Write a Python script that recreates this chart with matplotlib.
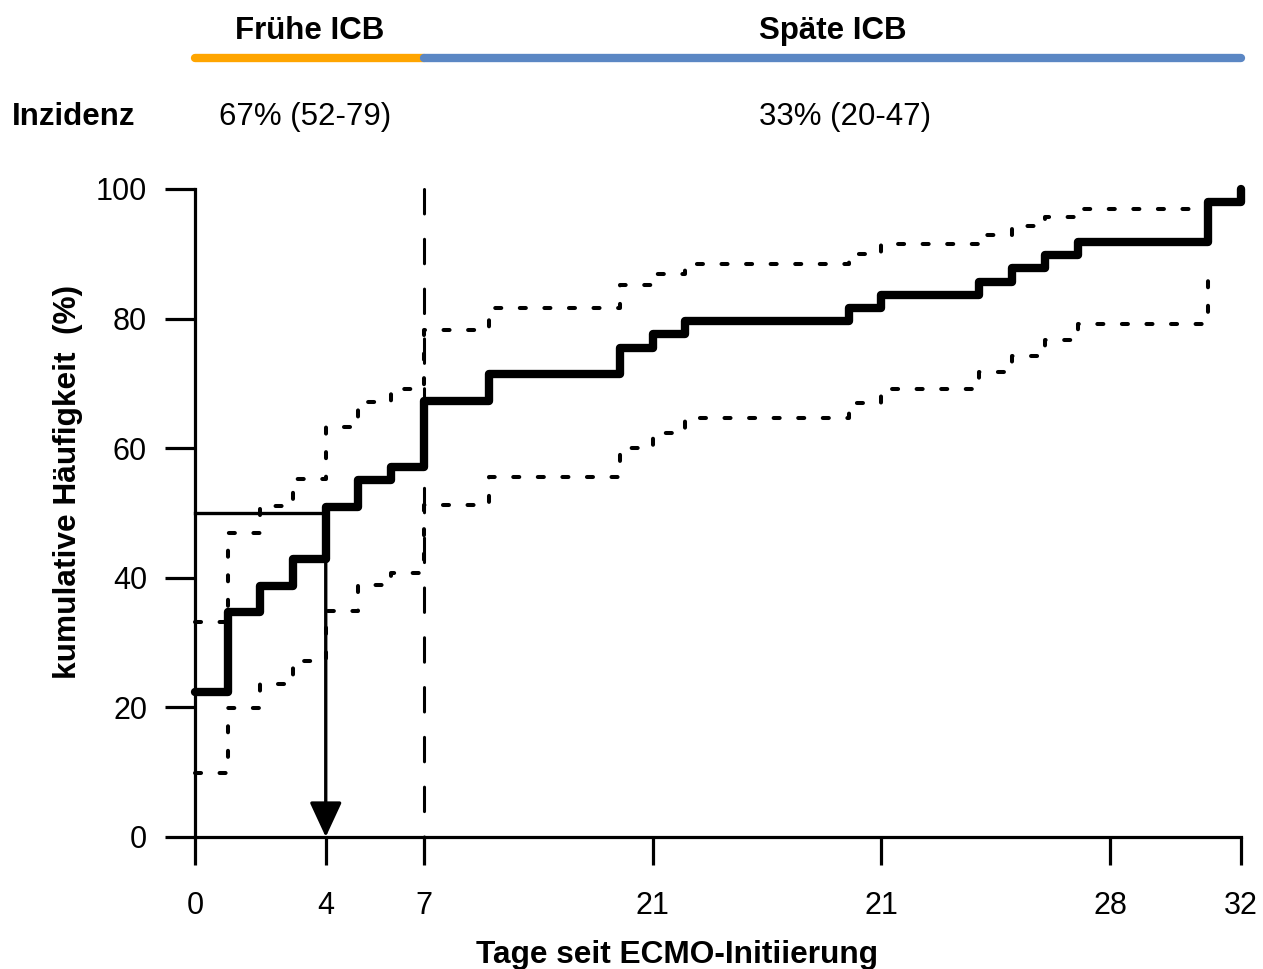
import matplotlib
matplotlib.use("Agg")
import matplotlib.pyplot as plt
import matplotlib.transforms as mtransforms

plt.rcParams['font.family'] = ['Liberation Sans', 'DejaVu Sans']

# Cumulative incidence (%) of ICB over days since ECMO initiation
days = [0, 1, 2, 3, 4, 5, 6, 7, 9, 13, 14, 15, 20, 21, 24, 25, 26, 27, 31, 32]
incidence = [22.4, 34.7, 38.8, 42.9, 51.0, 55.1, 57.1, 67.3, 71.4, 75.5, 77.6,
             79.6, 81.6, 83.7, 85.7, 87.8, 89.8, 91.8, 98.0, 100.0]

ci_days = [0, 1, 2, 3, 4, 5, 6, 7, 9, 13, 14, 15, 20, 21, 24, 25, 26, 27, 31]
ci_upper = [33.2, 46.9, 51.1, 55.2, 63.3, 67.1, 69.1, 78.2, 81.7, 85.2, 86.9,
            88.4, 90.0, 91.5, 92.9, 94.3, 95.7, 96.9, 96.9]
ci_lower = [9.9, 19.9, 23.6, 27.2, 34.9, 38.9, 40.8, 51.2, 55.6, 60.0, 62.3,
            64.6, 67.0, 69.1, 71.7, 74.2, 76.7, 79.2, 86.5]

median_day = 4
median_level = 50
early_cutoff = 7
max_day = 32

xtick_pos = [0, 4, 7, 14, 21, 28, 32]
xtick_labels = ['0', '4', '7', '21', '21', '28', '32']
ytick_pos = [0, 20, 40, 60, 80, 100]

phase_names = ['Frühe ICB', 'Späte ICB']
phase_incidence = ['67% (52-79)', '33% (20-47)']
phase_colors = ['#FFA500', '#5B87C4']

fig = plt.figure(figsize=(12.63, 9.69), dpi=100)
ax = fig.add_axes([195 / 1263, 1 - 837 / 969, (1241 - 195) / 1263, (837 - 189) / 969])
ax.set_xlim(0, max_day)
ax.set_ylim(0, 100)

# Confidence band borders
for ci in (ci_upper, ci_lower):
    ax.step(ci_days, ci, where='post', color='black', lw=2.9,
            linestyle=(0, (1.5, 4.6)), dash_capstyle='round', clip_on=False, zorder=2)

# Early / late cutoff (drawn top-down so the pattern starts with a dash at 100)
ax.plot([early_cutoff, early_cutoff], [100, 0], color='black', lw=2.2,
        linestyle=(0, (8, 8.3)), dash_capstyle='round', clip_on=False, zorder=2)

# Median time
ax.plot([0, median_day], [median_level, median_level], color='black', lw=2.4,
        clip_on=False, zorder=3)
ax.annotate('', xy=(median_day, 0), xytext=(median_day, incidence[days.index(median_day)]),
            arrowprops=dict(arrowstyle='-|>,head_length=1.08,head_width=0.5',
                            mutation_scale=20, lw=2.4, color='black',
                            shrinkA=0, shrinkB=0), zorder=3)

# Main curve
ax.step(days, incidence, where='post', color='black', lw=6.0,
        solid_joinstyle='round', solid_capstyle='round', clip_on=False, zorder=4)

# Axes styling
for side in ('top', 'right'):
    ax.spines[side].set_visible(False)
for side in ('left', 'bottom'):
    ax.spines[side].set_linewidth(2.3)
ax.set_xticks(xtick_pos)
ax.set_xticklabels(xtick_labels)
ax.set_yticks(ytick_pos)
ax.tick_params(axis='x', length=20, width=2.3, pad=19, labelsize=22, direction='out')
ax.tick_params(axis='y', length=21.5, width=2.3, pad=13, labelsize=22, direction='out')

# Phase bar across the top
bt = mtransforms.blended_transform_factory(ax.transData, fig.transFigure)
bounds = [(0, early_cutoff), (early_cutoff, max_day)]
for (a, b), col in zip(bounds, phase_colors):
    ax.plot([a, b], [0.940, 0.940], transform=bt, color=col, lw=6,
            solid_capstyle='round', clip_on=False)

for (a, b), name in zip(bounds, phase_names):
    ax.text((a + b) / 2, 0.968, name, transform=bt, ha='center', va='center',
            fontsize=22.5, fontweight='bold')

inc_x = [3.37, 19.9]
for xc, txt in zip(inc_x, phase_incidence):
    ax.text(xc, 0.879, txt, transform=bt, ha='center', va='center', fontsize=22.5)
fig.text(12 / 1263, 0.879, 'Inzidenz', ha='left', va='center', fontsize=22.5,
         fontweight='bold')

fig.text(0.0535, 0.5026, 'kumulative Häufigkeit  (%)', rotation=90, ha='center',
         va='center', fontsize=22.8, fontweight='bold')
fig.text(0.536, 0.0145, 'Tage seit ECMO-Initiierung', ha='center', va='center',
         fontsize=22.8, fontweight='bold')

fig.savefig('out.png', dpi=100)
